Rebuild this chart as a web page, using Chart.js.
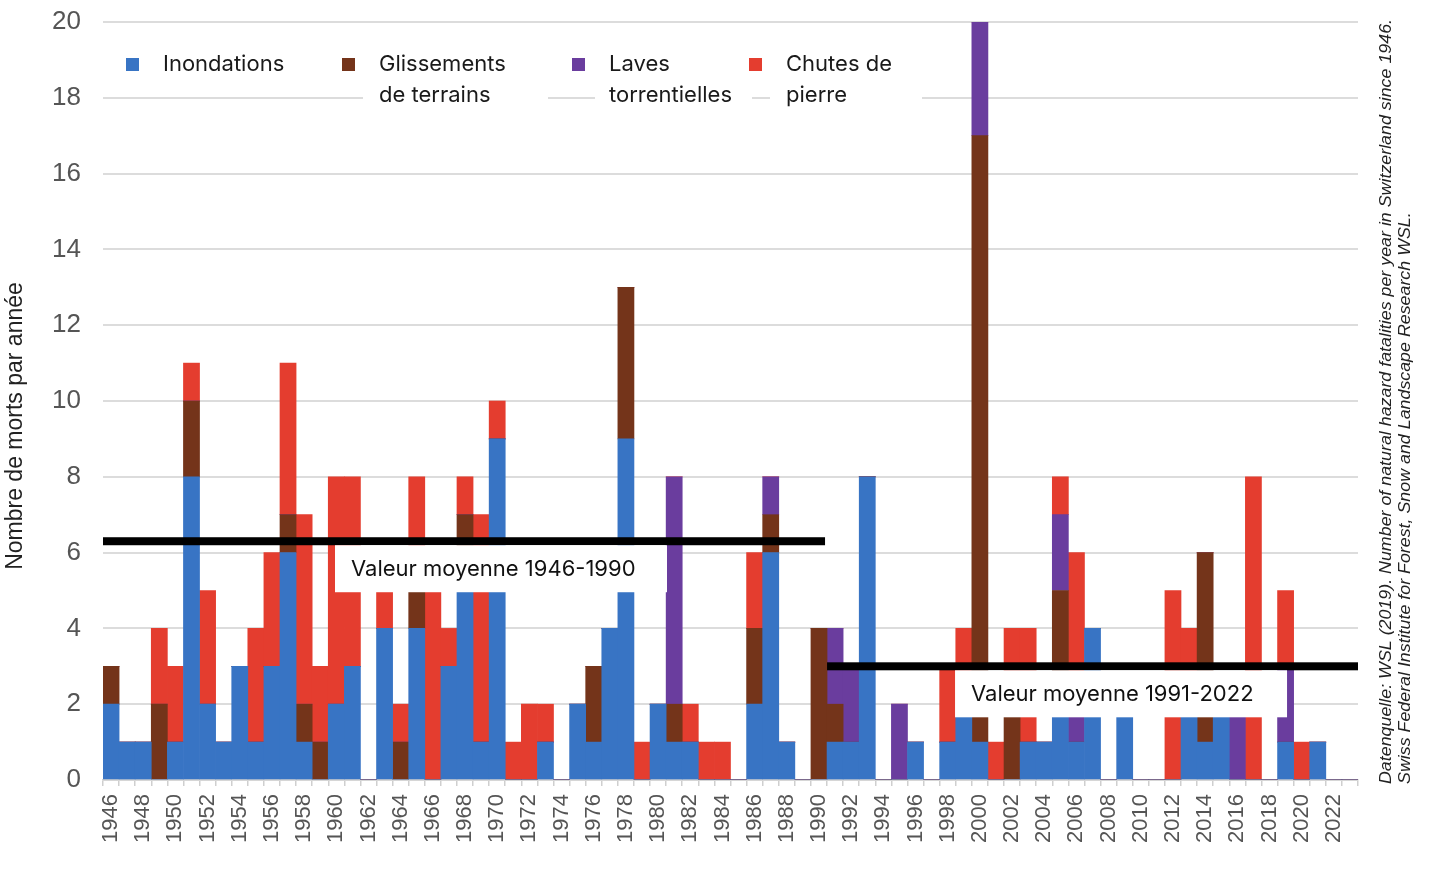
<!DOCTYPE html>
<html>
<head>
<meta charset="utf-8">
<script src="https://cdn.jsdelivr.net/npm/chart.js@4.4.1/dist/chart.umd.min.js"></script>
<style>
  html, body { margin: 0; padding: 0; background: #fff; overflow: hidden; }
  canvas { display: block; }
</style>
</head>
<body>
<canvas id="chart" width="1431" height="879"></canvas>
<script>
// Years (the last, unlabelled slot is empty in the source chart)
const years = [
  '1946','1947','1948','1949','1950','1951','1952','1953','1954','1955',
  '1956','1957','1958','1959','1960','1961','1962','1963','1964','1965',
  '1966','1967','1968','1969','1970','1971','1972','1973','1974','1975',
  '1976','1977','1978','1979','1980','1981','1982','1983','1984','1985',
  '1986','1987','1988','1989','1990','1991','1992','1993','1994','1995',
  '1996','1997','1998','1999','2000','2001','2002','2003','2004','2005',
  '2006','2007','2008','2009','2010','2011','2012','2013','2014','2015',
  '2016','2017','2018','2019','2020','2021','2022','2023'
];

// Deaths per year, one array per hazard
const inondations = [
  2,1,1,0,1,8,2,1,3,1,
  3,6,1,0,2,3,0,4,0,4,
  0,3,6,1,9,0,0,1,0,2,
  1,4,9,0,2,1,1,0,0,0,
  2,6,1,0,0,1,1,8,0,0,
  1,0,1,2,1,0,0,1,1,2,
  1,4,0,2,0,0,0,2,1,2,
  0,0,0,1,0,1,0,0
];
const glissements = [
  1,0,0,2,0,2,0,0,0,0,
  0,1,1,1,0,0,0,0,1,1,
  0,0,1,0,0,0,0,0,0,0,
  2,0,4,0,0,1,0,0,0,0,
  2,1,0,0,4,1,0,0,0,0,
  0,0,0,0,16,0,2,0,0,3,
  0,0,0,0,0,0,0,0,5,0,
  0,0,0,0,0,0,0,0
];
const laves = [
  0,0,0,0,0,0,0,0,0,0,
  0,0,0,0,0,0,0,0,0,0,
  0,0,0,0,0,0,0,0,0,0,
  0,0,0,0,0,6,0,0,0,0,
  0,1,0,0,0,2,2,0,0,2,
  0,0,0,0,3,0,0,0,0,2,
  1,0,0,0,0,0,0,0,0,0,
  2,0,0,2,0,0,0,0
];
const chutes = [
  0,0,0,2,2,1,3,0,0,3,
  3,4,5,2,6,5,0,1,1,3,
  5,1,1,6,1,1,2,1,0,0,
  0,0,0,1,0,0,1,1,1,0,
  2,0,0,0,0,0,0,0,0,0,
  0,0,2,2,0,1,2,3,0,1,
  4,0,0,0,0,0,5,2,0,0,
  0,8,0,2,1,0,0,0
];

const seriesNames = ['Inondations', 'Glissements de terrains', 'Laves torrentielles', 'Chutes de pierre'];
const colors = ['#3874c4', '#74341a', '#6a3d9e', '#e43d2f'];

// Mean lines
const avgLabels = ['Valeur moyenne 1946-1990', 'Valeur moyenne 1991-2022'];
const avgValues = [6.3, 3.0];
const avgFrom = ['1946', '1991'];
const avgTo = ['1990', '2023'];

const yTicks = [0, 2, 4, 6, 8, 10, 12, 14, 16, 18, 20];
const yTitle = 'Nombre de morts par année';

const sourceLines = [
  'Datenquelle: WSL (2019). Number of natural hazard fatalities per year in Switzerland since 1946.',
  'Swiss Federal Institute for Forest, Snow and Landscape Research WSL.'
];

const labelFont = 'Inter, "Noto Sans", sans-serif';
const axisFont = '"Liberation Sans", Arial, sans-serif';

// legend + mean lines + titles drawn by hand
const overlay = {
  id: 'overlay',
  afterDatasetsDraw(chart) {
    const ctx = chart.ctx;
    const xs = chart.scales.x, ys = chart.scales.y;
    const half = xs.width / years.length / 2;
    ctx.save();

    // mean lines with their label boxes
    const boxOffset = [232, 128];
    avgValues.forEach((v, i) => {
      const x0 = xs.getPixelForValue(years.indexOf(avgFrom[i])) - half;
      const x1 = xs.getPixelForValue(years.indexOf(avgTo[i])) + half;
      const y = ys.getPixelForValue(v);
      ctx.fillStyle = '#000';
      ctx.fillRect(x0, y - 4, x1 - x0 - (i === 0 ? 2 : 0), 8);
      const bx = x0 + boxOffset[i], by = y + 4;
      ctx.fillStyle = '#fff';
      ctx.fillRect(bx, by, 332, 47);
      ctx.fillStyle = '#111';
      ctx.font = '22px ' + labelFont;
      ctx.textBaseline = 'middle';
      ctx.textAlign = 'left';
      ctx.fillText(avgLabels[i], bx + 16, by + 24);
    });

    // legend
    const legendText = [['Inondations'], ['Glissements', 'de terrains'], ['Laves', 'torrentielles'], ['Chutes de', 'pierre']];
    const textX = [163, 379, 609, 786];
    const whiteBox = [null, [363, 548], [595, 752], [770, 922]];
    ctx.font = '22px ' + labelFont;
    ctx.textBaseline = 'middle';
    legendText.forEach((lines, i) => {
      if (whiteBox[i]) {
        ctx.fillStyle = '#fff';
        ctx.fillRect(whiteBox[i][0], 82, whiteBox[i][1] - whiteBox[i][0], 26);
      }
      ctx.fillStyle = colors[i];
      ctx.fillRect(textX[i] - 37, 58, 13, 13);
      ctx.fillStyle = '#1a1a1a';
      lines.forEach((t, k) => ctx.fillText(t, textX[i], 64 + k * 31));
    });
    ctx.restore();
  },
  afterDraw(chart) {
    const ctx = chart.ctx;
    ctx.save();
    // y axis title
    ctx.font = '23px ' + axisFont;
    ctx.fillStyle = '#222';
    ctx.textBaseline = 'middle';
    ctx.textAlign = 'center';
    ctx.save();
    ctx.translate(16, 426);
    ctx.rotate(-Math.PI / 2);
    ctx.fillText(yTitle, 0, 0);
    ctx.restore();

    // source note on the right
    ctx.font = 'italic 17px "Liberation Sans Narrow", "Liberation Sans", Arial, sans-serif';
    ctx.textAlign = 'left';
    const squeeze = 765 / ctx.measureText(sourceLines[0]).width;
    [1386, 1405].forEach((x, i) => {
      ctx.save();
      ctx.translate(x, 784);
      ctx.rotate(-Math.PI / 2);
      ctx.scale(squeeze, 1);
      ctx.fillText(sourceLines[i], 0, 0);
      ctx.restore();
    });
    ctx.restore();
  }
};

new Chart(document.getElementById('chart'), {
  type: 'bar',
  data: {
    labels: years,
    datasets: [inondations, glissements, laves, chutes].map((d, i) => ({
      label: seriesNames[i],
      data: d,
      backgroundColor: colors[i],
      borderWidth: 0,
      barPercentage: 1,
      categoryPercentage: 1
    }))
  },
  options: {
    responsive: false,
    animation: false,
    layout: { padding: { top: 22, right: 73, left: 0, bottom: 0 } },
    plugins: {
      legend: { display: false },
      tooltip: { enabled: false }
    },
    scales: {
      x: {
        stacked: true,
        afterFit(scale) { scale.height = 99; },
        grid: { drawOnChartArea: false, tickLength: 6, color: '#cfcfcf', lineWidth: 1.5 },
        border: { color: '#cfcfcf', width: 1.5 },
        ticks: {
          autoSkip: false,
          minRotation: 90,
          maxRotation: 90,
          padding: 8,
          color: '#555',
          font: { family: axisFont, size: 22 },
          callback: (v, i) => (i % 2 === 0 ? years[i] : '')
        }
      },
      y: {
        stacked: true,
        min: 0,
        max: 20,
        afterFit(scale) {
          scale.width = 103;
          scale.paddingTop = 0;
          scale.paddingBottom = 0;
        },
        afterBuildTicks(scale) { scale.ticks = yTicks.map(v => ({ value: v })); },
        grid: { color: '#dcdcdc', lineWidth: 2, drawTicks: false },
        border: { display: false },
        ticks: {
          padding: 22,
          color: '#555',
          font: { family: axisFont, size: 26 }
        }
      }
    }
  },
  plugins: [overlay]
});
</script>
</body>
</html>
